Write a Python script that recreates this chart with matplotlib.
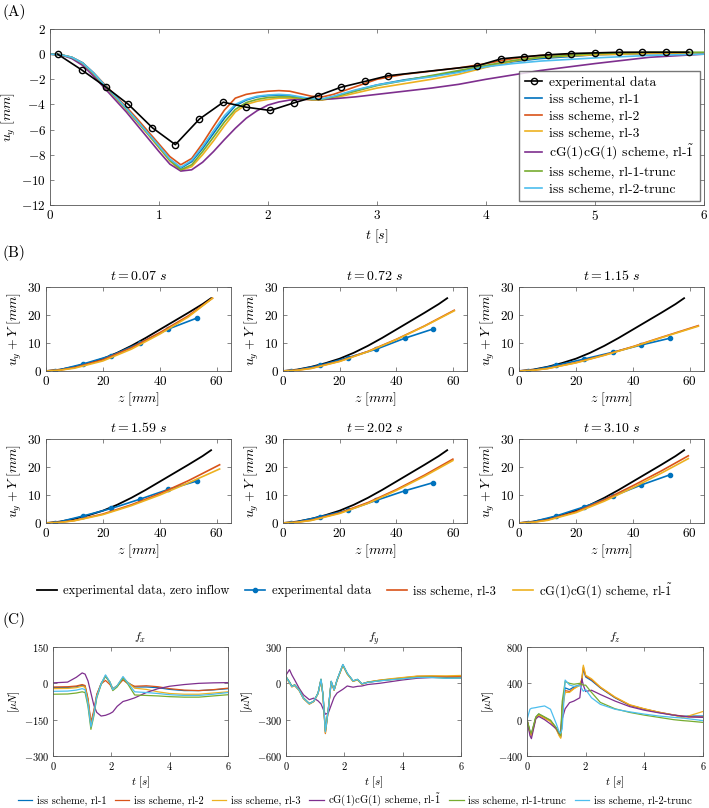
import matplotlib
matplotlib.use('Agg')
import matplotlib.pyplot as plt

# MATLAB default colour order
COLORS = ['#0072BD', '#D95319', '#EDB120', '#7E2F8E', '#77AC30', '#4DBEEE']

SIM_LABELS = [
    'iss scheme, rl-1',
    'iss scheme, rl-2',
    'iss scheme, rl-3',
    r'cG(1)cG(1) scheme, rl-$\tilde{1}$',
    'iss scheme, rl-1-trunc',
    'iss scheme, rl-2-trunc',
]

# ---------------- panel (A): u_y over time ----------------
t_exp = [0.07, 0.29, 0.51, 0.72, 0.94, 1.15, 1.37, 1.59, 1.80, 2.02, 2.24, 2.46, 2.67,
         2.89, 3.10, 3.92, 4.14, 4.35, 4.57, 4.78, 5.00, 5.22, 5.43, 5.65, 5.86]
u_exp = [0, -1.25, -2.6, -4.0, -5.86, -7.2, -5.17, -3.82, -4.22, -4.48, -3.87, -3.3, -2.63,
         -2.17, -1.72, -0.93, -0.37, -0.2, -0.05, 0.05, 0.1, 0.15, 0.15, 0.15, 0.15]

t_sim = [0, 0.1, 0.2, 0.3, 0.4, 0.5, 0.6, 0.7, 0.8, 0.9, 1.0, 1.1, 1.2, 1.3, 1.4, 1.5, 1.6,
         1.7, 1.8, 1.9, 2.0, 2.1, 2.2, 2.3, 2.4, 2.5, 2.6, 2.8, 3.0, 3.25, 3.5, 3.75, 4.0,
         4.25, 4.5, 5.0, 5.5, 6.0]
u_rl1 = [0, -0.05, -0.25, -0.7, -1.5, -2.45, -3.35, -4.3, -5.3, -6.3, -7.35, -8.4, -9.07,
         -8.55, -7.5, -6.3, -5.1, -4.1, -3.65, -3.4, -3.3, -3.25, -3.3, -3.45, -3.6, -3.6,
         -3.4, -2.9, -2.45, -2.05, -1.75, -1.4, -1.0, -0.6, -0.35, -0.05, 0.05, 0.05]
u_rl2 = [0, -0.05, -0.25, -0.7, -1.5, -2.4, -3.3, -4.2, -5.15, -6.15, -7.15, -8.15, -8.8,
         -8.3, -7.1, -5.75, -4.45, -3.5, -3.2, -3.05, -2.95, -2.9, -2.95, -3.15, -3.35, -3.4,
         -3.2, -2.6, -2.0, -1.6, -1.35, -1.1, -0.75, -0.35, -0.1, 0.05, 0.1, 0.05]
u_rl3 = [0, -0.05, -0.28, -0.75, -1.6, -2.55, -3.45, -4.4, -5.4, -6.4, -7.45, -8.5, -9.25,
         -8.95, -8.0, -6.9, -5.7, -4.6, -4.0, -3.75, -3.6, -3.5, -3.5, -3.55, -3.65, -3.65,
         -3.5, -3.1, -2.7, -2.35, -2.0, -1.6, -1.05, -0.55, -0.25, -0.05, 0.05, 0.05]
u_cg = [0, -0.06, -0.35, -0.9, -1.75, -2.7, -3.65, -4.6, -5.65, -6.7, -7.75, -8.75, -9.3,
        -9.2, -8.6, -7.75, -6.8, -5.9, -5.1, -4.5, -4.05, -3.8, -3.65, -3.6, -3.6, -3.6,
        -3.55, -3.4, -3.2, -2.95, -2.7, -2.4, -2.0, -1.65, -1.3, -0.75, -0.25, 0.0]
u_rl1t = [0, -0.05, -0.27, -0.72, -1.55, -2.5, -3.4, -4.35, -5.35, -6.35, -7.4, -8.45, -9.2,
          -8.8, -7.75, -6.6, -5.4, -4.4, -3.85, -3.6, -3.45, -3.4, -3.4, -3.5, -3.6, -3.6,
          -3.4, -2.95, -2.5, -2.1, -1.7, -1.3, -0.9, -0.5, -0.25, 0.05, 0.15, 0.15]
u_rl2t = [0, -0.05, -0.25, -0.7, -1.5, -2.45, -3.35, -4.3, -5.3, -6.3, -7.3, -8.35, -9.0,
          -8.45, -7.35, -6.1, -4.9, -4.0, -3.6, -3.35, -3.25, -3.2, -3.25, -3.4, -3.55, -3.55,
          -3.35, -2.85, -2.45, -2.1, -1.8, -1.45, -1.0, -0.75, -0.55, -0.3, -0.1, 0.0]

# ---------------- panel (B): centreline profiles ----------------
b_times = ['0.07', '0.72', '1.15', '1.59', '2.02', '3.10']
z_zero = [0, 5, 10, 15, 20, 25, 30, 35, 40, 45, 50, 55, 58]
y_zero = [0, 0.5, 1.5, 2.8, 4.4, 6.5, 9.0, 11.8, 14.8, 17.8, 20.8, 23.9, 26.0]
z_meas = [3, 13, 23, 33, 43, 53]
y_meas = [
    [0, 2.5, 5.5, 10.0, 15.0, 18.9],
    [0, 2.0, 4.8, 7.8, 11.7, 15.0],
    [0, 2.0, 4.3, 6.7, 9.3, 11.7],
    [0, 2.5, 5.2, 8.5, 12.0, 15.0],
    [0, 2.2, 4.6, 8.1, 11.5, 14.4],
    [0, 2.5, 5.8, 9.6, 13.6, 17.2],
]
z_end = [58.5, 60.5, 63, 61, 60, 59.5]
y_iss3 = [
    [0, 0.35, 1.2, 4.0, 8.3, 13.7, 19.7, 26.0],
    [0, 0.3, 1.0, 3.5, 7.0, 11.3, 16.1, 21.7],
    [0, 0.3, 0.9, 3.0, 5.7, 8.7, 12.0, 16.2],
    [0, 0.25, 0.9, 3.2, 6.5, 10.5, 15.1, 20.8],
    [0, 0.3, 1.0, 3.6, 7.3, 11.9, 17.1, 22.8],
    [0, 0.3, 1.1, 4.0, 8.3, 13.3, 18.6, 24.0],
]
y_cg = [
    [0, 0.3, 1.0, 3.6, 7.8, 13.2, 19.3, 26.0],
    [0, 0.25, 0.9, 3.4, 6.9, 11.2, 16.0, 21.5],
    [0, 0.25, 0.85, 2.9, 5.6, 8.6, 11.9, 16.0],
    [0, 0.2, 0.8, 3.0, 6.2, 10.0, 14.3, 19.3],
    [0, 0.25, 0.9, 3.4, 7.0, 11.6, 16.7, 22.3],
    [0, 0.25, 0.95, 3.7, 7.8, 12.6, 17.8, 23.0],
]
z_sim = [0, 5, 10, 20, 30, 40, 50]

# ---------------- panel (C): forces ----------------
t_fx = [0, 0.5, 0.8, 1.0, 1.1, 1.2, 1.3, 1.4, 1.5, 1.65, 1.8, 1.95, 2.05, 2.2, 2.4, 2.55,
        2.8, 3.2, 3.6, 4.0, 4.5, 5.0, 5.5, 6.0]
fx = [
    [-18, -17, -14, -8, -12, -70, -170, -120, -50, 0, 28, 5, -22, -10, 22, 5, -15, -15, -18, -25, -30, -30, -27, -22],
    [-15, -14, -11, -5, -9, -62, -160, -112, -45, -2, 12, -5, -25, -12, 14, 0, -12, -10, -14, -22, -28, -30, -26, -20],
    [-22, -21, -18, -12, -16, -75, -175, -125, -55, -2, 30, 6, -24, -10, 25, 5, -20, -25, -35, -42, -45, -45, -40, -35],
    [2, 5, 25, 43, 38, 10, -40, -90, -120, -135, -132, -125, -118, -95, -75, -70, -60, -38, -22, -12, -5, 0, 2, 3],
    [-45, -44, -40, -35, -38, -95, -190, -135, -60, -5, 32, 3, -30, -15, 22, 0, -48, -50, -52, -55, -57, -57, -52, -47],
    [-33, -32, -28, -22, -26, -85, -180, -128, -55, -3, 35, 6, -26, -10, 28, 4, -35, -38, -42, -47, -50, -50, -45, -38],
]
t_fy = [0, 0.12, 0.2, 0.3, 0.45, 0.6, 0.8, 0.95, 1.1, 1.2, 1.27, 1.35, 1.45, 1.55, 1.65,
        1.75, 1.95, 2.1, 2.3, 2.45, 2.6, 2.8, 3.2, 3.6, 4.0, 4.5, 5.0, 5.5, 6.0]
fy = [
    [54, 10, -25, -14, -54, -122, -168, -149, -81, 32, -100, -390, -216, 14, -54, 27, 154, 81, 19, 32, -5, 8, 22, 32, 40, 54, 54, 46, 49],
    [50, 5, -28, -18, -58, -126, -170, -150, -84, 30, -105, -415, -220, 12, -56, 25, 150, 78, 18, 30, -6, 10, 25, 35, 45, 58, 60, 55, 58],
    [48, 3, -30, -20, -60, -128, -172, -152, -86, 28, -108, -410, -222, 10, -58, 24, 148, 76, 16, 28, -8, 10, 26, 38, 48, 60, 62, 62, 65],
    [68, 113, 70, 27, -40, -95, -135, -122, -145, -170, -210, -255, -245, -180, -115, -80, -49, -22, -32, -25, -22, -10, 0, 14, 28, 42, 48, 48, 45],
    [56, 12, -22, -12, -52, -120, -166, -147, -79, 34, -96, -395, -214, 16, -52, 28, 152, 82, 20, 33, -4, 9, 22, 30, 38, 50, 50, 44, 45],
    [52, 8, -26, -16, -56, -124, -168, -148, -82, 34, -98, -400, -218, 18, -54, 28, 156, 84, 20, 33, -4, 8, 20, 30, 38, 48, 48, 42, 44],
]
t_fz = [0, 0.1, 0.15, 0.3, 0.4, 0.6, 0.8, 1.0, 1.1, 1.15, 1.2, 1.3, 1.45, 1.6, 1.8, 1.87,
        1.92, 2.0, 2.2, 2.5, 3.0, 3.5, 4.0, 4.5, 5.0, 5.3, 5.5, 6.0]
fz = [
    [0, -130, -160, 25, 61, 25, -11, -94, -160, -185, 150, 350, 331, 360, 385, 430, 560, 470, 430, 350, 241, 158, 115, 79, 50, 36, 40, 40],
    [0, -140, -170, 20, 55, 20, -15, -100, -170, -195, 120, 320, 310, 345, 380, 440, 580, 480, 440, 355, 245, 160, 118, 82, 52, 40, 30, 30],
    [0, -150, -180, 15, 50, 15, -20, -110, -180, -205, 100, 300, 300, 340, 380, 450, 600, 490, 450, 360, 250, 165, 120, 82, 52, 20, 40, 90],
    [0, -175, -209, 10, 36, 0, -47, -101, -155, -120, 7, 120, 187, 205, 241, 450, 380, 310, 324, 277, 205, 144, 104, 75, 50, 38, 32, 25],
    [0, -120, -150, 30, 65, 30, -5, -90, -150, -175, 200, 420, 400, 390, 400, 390, 380, 380, 300, 190, 120, 80, 50, 25, 0, -10, -15, -30],
    [0, 115, 125, 133, 140, 151, 115, -47, -137, -150, -100, 436, 382, 367, 375, 340, 313, 331, 241, 169, 115, 86, 61, 40, 25, 18, 10, -10],
]

W, H = 709, 808

plt.rcParams['font.family'] = ['cmr10', 'DejaVu Serif']
plt.rcParams['mathtext.fontset'] = 'cm'
plt.rcParams['axes.unicode_minus'] = False
plt.rcParams['axes.formatter.use_mathtext'] = True


def px_axes(fig, left, right, top, bottom):
    """axes placed by pixel edges of the target image"""
    return fig.add_axes([left / W, 1 - bottom / H, (right - left) / W, (bottom - top) / H])


def matlab_style(ax, size):
    ax.tick_params(direction='in', top=True, right=True, labelsize=size,
                   length=3, width=0.5, color='#555555', pad=3)
    for sp in ax.spines.values():
        sp.set_color('#555555')
        sp.set_linewidth(0.6)


fig = plt.figure(figsize=(W / 100, H / 100), dpi=100)

# (A)
ax = px_axes(fig, 50, 704, 29, 205)
ax.plot(t_exp, u_exp, color='black', lw=1.2, marker='o', ms=4.5, mfc='none', mew=1.0,
        label='experimental data', zorder=4)
for u, c, lab in zip([u_rl1, u_rl2, u_rl3, u_cg, u_rl1t, u_rl2t], COLORS, SIM_LABELS):
    ax.plot(t_sim, u, color=c, lw=1.2, label=lab)
ax.set_xlim(0, 6)
ax.set_ylim(-12, 2)
ax.set_yticks(range(-12, 3, 2))
ax.set_xlabel(r'$t\ [s]$', fontsize=10, labelpad=3)
ax.set_ylabel(r'$u_y\ [mm]$', fontsize=10, labelpad=2)
matlab_style(ax, 9.5)
ax.legend(loc='lower right', fontsize=9.8, frameon=True, fancybox=False, edgecolor='#555555',
          handlelength=1.3, labelspacing=0.3, borderaxespad=0.3, handletextpad=0.5)
fig.text(3 / W, 1 - 12 / H, '(A)', fontsize=11, va='center')

# (B)
cols = [(46, 231), (283, 467), (519, 704)]
rows = [(287, 371), (439, 523)]
for i, tt in enumerate(b_times):
    left, right = cols[i % 3]
    top, bottom = rows[i // 3]
    ax = px_axes(fig, left, right, top, bottom)
    ax.plot(z_zero, y_zero, color='black', lw=1.3, label='experimental data, zero inflow')
    ax.plot(z_meas, y_meas[i], color=COLORS[0], lw=1.2, marker='o', ms=3,
            label='experimental data')
    zs = z_sim + [z_end[i]]
    ax.plot(zs, y_iss3[i], color=COLORS[1], lw=1.2, label='iss scheme, rl-3')
    ax.plot(zs, y_cg[i], color=COLORS[2], lw=1.2, label=r'cG(1)cG(1) scheme, rl-$\tilde{1}$')
    ax.set_xlim(0, 65)
    ax.set_ylim(0, 30)
    ax.set_xticks([0, 20, 40, 60])
    ax.set_yticks([0, 10, 20, 30])
    ax.set_title(r'$t = %s\ s$' % tt, fontsize=10, pad=5)
    ax.set_xlabel(r'$z\ [mm]$', fontsize=10, labelpad=2)
    ax.set_ylabel(r'$u_y + Y\ [mm]$', fontsize=10, labelpad=2)
    matlab_style(ax, 9.5)
    if i == 0:
        handles, labels = ax.get_legend_handles_labels()
fig.legend(handles, labels, loc='center', bbox_to_anchor=(0.5, 1 - 590 / H), ncol=4,
           frameon=False, fontsize=9, handlelength=1.6, columnspacing=1.3, handletextpad=0.5)
fig.text(3 / W, 1 - 253 / H, '(B)', fontsize=11, va='center')

# (C)
c_cols = [(53, 228), (286, 461), (527, 703)]
panels = [
    (t_fx, fx, r'$f_x$', (-300, 150), [-300, -150, 0, 150]),
    (t_fy, fy, r'$f_y$', (-600, 300), [-600, -300, 0, 300]),
    (t_fz, fz, r'$f_z$', (-400, 800), [-400, 0, 400, 800]),
]
for (left, right), (tt, series, name, lim, ticks) in zip(c_cols, panels):
    ax = px_axes(fig, left, right, 647, 756)
    for f, c, lab in zip(series, COLORS, SIM_LABELS):
        ax.plot(tt, f, color=c, lw=0.9, label=lab)
    ax.set_xlim(0, 6)
    ax.set_ylim(*lim)
    ax.set_xticks([0, 2, 4, 6])
    ax.set_yticks(ticks)
    ax.set_title(name, fontsize=8.5, pad=4)
    ax.set_xlabel(r'$t\ [s]$', fontsize=8, labelpad=2)
    ax.set_ylabel(r'$[\mu N]$', fontsize=8, labelpad=1)
    matlab_style(ax, 7.5)
    handles, labels = ax.get_legend_handles_labels()
fig.legend(handles, labels, loc='center', bbox_to_anchor=(0.5, 1 - 800 / H), ncol=6,
           frameon=False, fontsize=7.6, handlelength=1.4, columnspacing=0.8, handletextpad=0.4)
fig.text(3 / W, 1 - 620 / H, '(C)', fontsize=11, va='center')

fig.savefig('out.png', dpi=100)
